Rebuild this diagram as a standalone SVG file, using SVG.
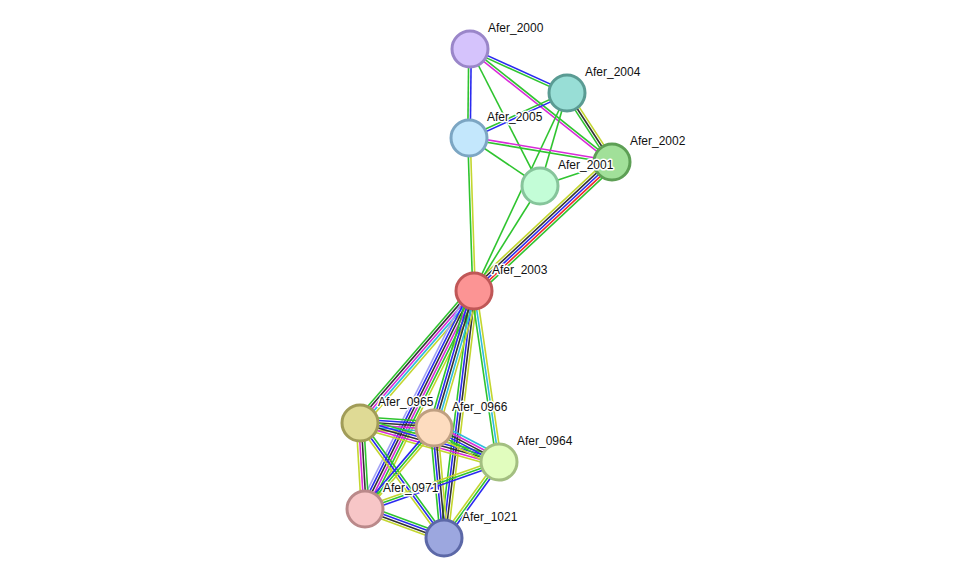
<svg xmlns="http://www.w3.org/2000/svg" width="976" height="583" viewBox="0 0 976 583">
<style>
line{stroke-width:1.6;fill:none}
.g{stroke:#2fc42f}.r{stroke:#f02a2a}.b{stroke:#2a2af0}.k{stroke:#333333}.m{stroke:#d92ad9}.c{stroke:#2fbcdc}.y{stroke:#c3d62e}.h{stroke:#a3a3f5}
.n{stroke-width:3}
text{font-family:"Liberation Sans",Arial,sans-serif;font-size:12px;fill:#111;stroke:#fff;stroke-width:3;stroke-linejoin:round;paint-order:stroke}
</style>
<rect width="976" height="583" fill="#fff"/>
<g id="edges">
<g transform="translate(470 49) rotate(90.64)"><line x2="89" y1="-1.25" y2="-1.25" class="b"/><line x2="89" y1="1.25" y2="1.25" class="g"/></g>
<g transform="translate(470 49) rotate(24.4)"><line x2="106.5" y1="-1.25" y2="-1.25" class="b"/><line x2="106.5" y1="1.25" y2="1.25" class="g"/></g>
<g transform="translate(470 49) rotate(38.5)"><line x2="181.5" y1="-1.25" y2="-1.25" class="g"/><line x2="181.5" y1="1.25" y2="1.25" class="m"/></g>
<g transform="translate(470 49) rotate(62.94)"><line x2="153.8" class="g"/></g>
<g transform="translate(567 93) rotate(155.34)"><line x2="107.8" y1="-1.25" y2="-1.25" class="b"/><line x2="107.8" y1="1.25" y2="1.25" class="g"/></g>
<g transform="translate(567 93) rotate(56.9)"><line x2="82.4" y1="-2.5" y2="-2.5" class="y"/><line x2="82.4" class="k"/><line x2="82.4" y1="2.5" y2="2.5" class="g"/></g>
<g transform="translate(567 93) rotate(106.19)"><line x2="96.8" class="g"/></g>
<g transform="translate(567 93) rotate(115.16)"><line x2="218.7" class="g"/></g>
<g transform="translate(469 138) rotate(9.53)"><line x2="145" y1="-1.25" y2="-1.25" class="m"/><line x2="145" y1="1.25" y2="1.25" class="g"/></g>
<g transform="translate(469 138) rotate(34.06)"><line x2="85.7" class="g"/></g>
<g transform="translate(469 138) rotate(88.13)"><line x2="153.1" y1="-1.25" y2="-1.25" class="y"/><line x2="153.1" y1="1.25" y2="1.25" class="g"/></g>
<g transform="translate(612 162) rotate(161.57)"><line x2="75.9" class="g"/></g>
<g transform="translate(612 162) rotate(136.93)"><line x2="188.9" y1="-5" y2="-5" class="g"/><line x2="188.9" y1="-2.5" y2="-2.5" class="r"/><line x2="188.9" class="b"/><line x2="188.9" y1="2.5" y2="2.5" class="k"/><line x2="188.9" y1="5" y2="5" class="y"/></g>
<g transform="translate(540 186) rotate(122.15)"><line x2="124" class="g"/></g>
<g transform="translate(474 291) rotate(130.82)"><line x2="174.4" y1="-5" y2="-5" class="y"/><line x2="174.4" y1="-2.5" y2="-2.5" class="c"/><line x2="174.4" class="m"/><line x2="174.4" y1="2.5" y2="2.5" class="k"/><line x2="174.4" y1="5" y2="5" class="g"/></g>
<g transform="translate(474 291) rotate(116.57)"><line x2="243.7" y1="-6.25" y2="-6.25" class="y"/><line x2="243.7" y1="-3.75" y2="-3.75" class="g"/><line x2="243.7" y1="-1.25" y2="-1.25" class="m"/><line x2="243.7" y1="1.25" y2="1.25" class="k"/><line x2="243.7" y1="3.75" y2="3.75" class="b"/><line x2="243.7" y1="6.25" y2="6.25" class="h"/></g>
<g transform="translate(474 291) rotate(96.93)"><line x2="248.8" y1="-3.75" y2="-3.75" class="y"/><line x2="248.8" y1="-1.25" y2="-1.25" class="k"/><line x2="248.8" y1="1.25" y2="1.25" class="b"/><line x2="248.8" y1="3.75" y2="3.75" class="g"/></g>
<g transform="translate(474 291) rotate(106.28)"><line x2="142.7" y1="-5" y2="-5" class="y"/><line x2="142.7" y1="-2.5" y2="-2.5" class="c"/><line x2="142.7" class="k"/><line x2="142.7" y1="2.5" y2="2.5" class="b"/><line x2="142.7" y1="5" y2="5" class="g"/></g>
<g transform="translate(474 291) rotate(81.68)"><line x2="172.8" y1="-2.5" y2="-2.5" class="y"/><line x2="172.8" class="c"/><line x2="172.8" y1="2.5" y2="2.5" class="g"/></g>
<g transform="translate(360 423) rotate(3.87)"><line x2="74.2" y1="-6.25" y2="-6.25" class="g"/><line x2="74.2" y1="-3.75" y2="-3.75" class="b"/><line x2="74.2" y1="-1.25" y2="-1.25" class="k"/><line x2="74.2" y1="1.25" y2="1.25" class="m"/><line x2="74.2" y1="3.75" y2="3.75" class="c"/><line x2="74.2" y1="6.25" y2="6.25" class="y"/></g>
<g transform="translate(360 423) rotate(15.67)"><line x2="144.4" y1="-5" y2="-5" class="g"/><line x2="144.4" y1="-2.5" y2="-2.5" class="b"/><line x2="144.4" class="k"/><line x2="144.4" y1="2.5" y2="2.5" class="m"/><line x2="144.4" y1="5" y2="5" class="y"/></g>
<g transform="translate(360 423) rotate(86.67)"><line x2="86.1" y1="-3.75" y2="-3.75" class="g"/><line x2="86.1" y1="-1.25" y2="-1.25" class="k"/><line x2="86.1" y1="1.25" y2="1.25" class="m"/><line x2="86.1" y1="3.75" y2="3.75" class="y"/></g>
<g transform="translate(360 423) rotate(53.86)"><line x2="142.4" y1="-2.5" y2="-2.5" class="g"/><line x2="142.4" class="b"/><line x2="142.4" y1="2.5" y2="2.5" class="y"/></g>
<g transform="translate(434 428) rotate(27.61)"><line x2="73.4" y1="-6.25" y2="-6.25" class="c"/><line x2="73.4" y1="-3.75" y2="-3.75" class="m"/><line x2="73.4" y1="-1.25" y2="-1.25" class="k"/><line x2="73.4" y1="1.25" y2="1.25" class="b"/><line x2="73.4" y1="3.75" y2="3.75" class="g"/><line x2="73.4" y1="6.25" y2="6.25" class="y"/></g>
<g transform="translate(434 428) rotate(130.43)"><line x2="106.4" y1="-2.5" y2="-2.5" class="y"/><line x2="106.4" class="g"/><line x2="106.4" y1="2.5" y2="2.5" class="b"/></g>
<g transform="translate(434 428) rotate(84.81)"><line x2="110.5" y1="-3.75" y2="-3.75" class="y"/><line x2="110.5" y1="-1.25" y2="-1.25" class="k"/><line x2="110.5" y1="1.25" y2="1.25" class="b"/><line x2="110.5" y1="3.75" y2="3.75" class="g"/></g>
<g transform="translate(499 462) rotate(160.67)"><line x2="142" y1="-2.5" y2="-2.5" class="b"/><line x2="142" class="g"/><line x2="142" y1="2.5" y2="2.5" class="y"/></g>
<g transform="translate(499 462) rotate(125.89)"><line x2="93.8" y1="-2.5" y2="-2.5" class="b"/><line x2="93.8" class="g"/><line x2="93.8" y1="2.5" y2="2.5" class="y"/></g>
<g transform="translate(365 509) rotate(20.16)"><line x2="84.2" y1="-3.75" y2="-3.75" class="g"/><line x2="84.2" y1="-1.25" y2="-1.25" class="b"/><line x2="84.2" y1="1.25" y2="1.25" class="k"/><line x2="84.2" y1="3.75" y2="3.75" class="y"/></g>
</g>
<g id="Afer_2000"><circle class="n" cx="470" cy="49" r="18" fill="#d5c3fc" stroke="#9a86c9"/><text x="488" y="32">Afer_2000</text></g>
<g id="Afer_2004"><circle class="n" cx="567" cy="93" r="18" fill="#98ded6" stroke="#5a9b93"/><text x="585" y="76">Afer_2004</text></g>
<g id="Afer_2005"><circle class="n" cx="469" cy="138" r="18" fill="#c3e7fc" stroke="#7ca6c3"/><text x="487" y="121">Afer_2005</text></g>
<g id="Afer_2002"><circle class="n" cx="612" cy="162" r="18" fill="#a1e099" stroke="#5d9f55"/><text x="630" y="145">Afer_2002</text></g>
<g id="Afer_2001"><circle class="n" cx="540" cy="186" r="18" fill="#c3fdd7" stroke="#86c59b"/><text x="558" y="169">Afer_2001</text></g>
<g id="Afer_2003"><circle class="n" cx="474" cy="291" r="18" fill="#fc9494" stroke="#c05757"/><text x="492" y="274">Afer_2003</text></g>
<g id="Afer_0965"><circle class="n" cx="360" cy="423" r="18" fill="#dfda95" stroke="#a19c58"/><text x="378" y="406">Afer_0965</text></g>
<g id="Afer_0966"><circle class="n" cx="434" cy="428" r="18" fill="#fddcbf" stroke="#bf9f81"/><text x="452" y="411">Afer_0966</text></g>
<g id="Afer_0964"><circle class="n" cx="499" cy="462" r="18" fill="#e1fdbe" stroke="#a3bf81"/><text x="517" y="445">Afer_0964</text></g>
<g id="Afer_0971"><circle class="n" cx="365" cy="509" r="18" fill="#f7c6c7" stroke="#ba898a"/><text x="383" y="492">Afer_0971</text></g>
<g id="Afer_1021"><circle class="n" cx="444" cy="538" r="18" fill="#9ca7df" stroke="#5c68a7"/><text x="462" y="521">Afer_1021</text></g>
</svg>
